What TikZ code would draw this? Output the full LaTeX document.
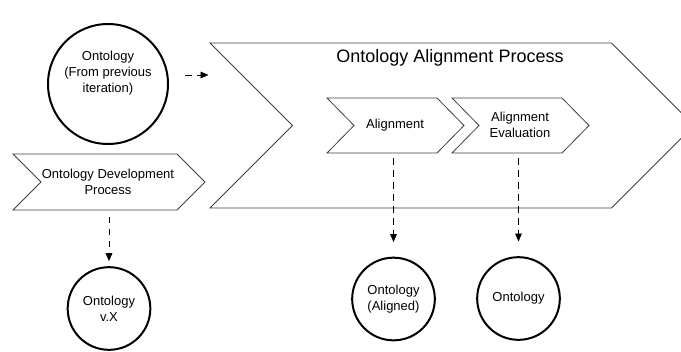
\documentclass[tikz,border=0pt]{standalone}
\usepackage{fontspec}
\setmainfont{Liberation Sans}
\usepackage{tikz}
\usetikzlibrary{arrows.meta}

\tikzset{
  chev/.style={draw=black!75, line width=0.6pt, line join=miter},
  onto/.style={circle, draw, line width=1.5pt, inner sep=0pt, align=center, font=\fontsize{9.75}{12}\selectfont},
  lbl/.style={align=center, font=\fontsize{9.75}{12}\selectfont},
  flow/.style={-{Triangle[length=6pt,width=5pt]}, dash pattern=on 5pt off 4pt, line width=0.6pt}
}

\begin{document}
\begin{tikzpicture}[x=0.75pt, y=-0.75pt]
\useasboundingbox (0,0) rectangle (681,351);

\draw[chev] (210,43) -- (611.5,43) -- (694,125.5) -- (611.5,208) -- (210,208) -- (292.5,125.5) -- cycle;
\draw[chev] (327,98) -- (437,98) -- (464,125.5) -- (437,153) -- (327,153) -- (354,125.5) -- cycle;
\draw[chev] (452,98) -- (562,98) -- (589,125.5) -- (562,153) -- (452,153) -- (479,125.5) -- cycle;
\draw[chev] (13,154) -- (177,154) -- (205,182) -- (177,210) -- (13,210) -- (41,182) -- cycle;

\node[font=\fontsize{13.5}{16}\selectfont] (alp) at (450,58) {Ontology Alignment Process};
\node[lbl] (align) at (395,125.5) {Alignment};
\node[lbl] (eval) at (520,124.5) {Alignment\\Evaluation};
\node[lbl] (odp) at (108,182) {Ontology Development\\Process};

\node[onto, minimum size=90pt] (prev) at (108,84) {};
\node[lbl] (prevtxt) at (108,73.5) {Ontology\\(From previous\\iteration)};
\node[onto, minimum size=62pt] (vx) at (109,308.5) {Ontology\\v.X};
\node[onto, minimum size=62pt] (aligned) at (393.5,299) {Ontology\\(Aligned)};
\node[onto, minimum size=62pt] (ont) at (518.5,298.5) {Ontology};

\coordinate (prev-out) at (185,75);
\coordinate (alp-in) at (208.5,75);
\coordinate (odp-out) at (109,216.5);
\coordinate (align-out) at (393.5,158);
\coordinate (eval-out) at (518.5,158);

\draw[flow] (prev-out) -- (alp-in);
\draw[flow, shorten >=3.75pt] (odp-out) -- (vx);
\draw[flow, shorten >=11pt] (align-out) -- (aligned);
\draw[flow, shorten >=11pt] (eval-out) -- (ont);

\end{tikzpicture}
\end{document}
